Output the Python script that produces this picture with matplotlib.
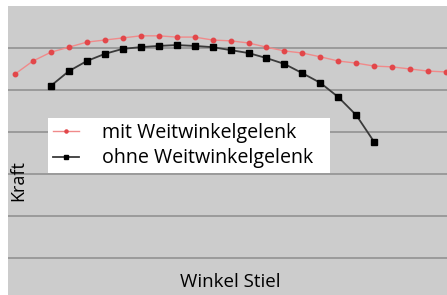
import matplotlib.pyplot as plt
import numpy as np

plt.rcParams['font.family'] = ['Open Sans', 'DejaVu Sans']

# angle steps (no tick labels in the original)
steps_mit = np.arange(0, 25)
steps_ohne = np.arange(2, 21)

kraft_mit = [5.38, 5.69, 5.90, 6.02, 6.14, 6.19, 6.24, 6.29, 6.29, 6.26, 6.26, 6.19,
             6.17, 6.12, 6.02, 5.93, 5.88, 5.79, 5.69, 5.64, 5.57, 5.55, 5.50, 5.45, 5.43]
kraft_ohne = [5.10, 5.45, 5.69, 5.86, 5.98, 6.02, 6.05, 6.07, 6.05, 6.02, 5.95, 5.88,
              5.76, 5.62, 5.40, 5.17, 4.83, 4.40, 3.76]

fig = plt.figure(figsize=(4.47, 2.95), dpi=100)
ax = fig.add_axes([8/447, 0, 1 - 8/447, 289/295])
ax.set_facecolor('#cccccc')

ax.plot(steps_mit, kraft_mit, color='#f08a8a', lw=1.0, marker='o', ms=3.2,
        mfc='#e2474a', mec='#e2474a', label='mit Weitwinkelgelenk', zorder=3)
ax.plot(steps_ohne, kraft_ohne, color='#3a3a3a', lw=1.3, marker='s', ms=4.5,
        mfc='black', mec='black', label='ohne Weitwinkelgelenk', zorder=3)

ax.set_xlim(-0.39, 24.05)
ax.set_ylim(0.119, 7)
ax.set_yticks(np.arange(1, 7))
ax.set_xticks([])
ax.tick_params(left=False, labelleft=False)
ax.grid(axis='y', color='#9a9a9a', lw=1.4)
ax.set_axisbelow(True)
for s in ax.spines.values():
    s.set_visible(False)

# legend box stretched to the width seen in the picture
leg = ax.legend(loc='upper left', bbox_to_anchor=(40/439, 1 - 112/289, 282/439, 0),
                mode='expand', fontsize=14.1,
                frameon=True, fancybox=False, framealpha=1, edgecolor='white',
                borderpad=0.25, labelspacing=0.28, handlelength=1.35, handletextpad=1.15,
                borderaxespad=0, markerscale=0.7)
leg.get_frame().set_linewidth(0)

fig.text(18/447, 1 - 181/295, 'Kraft', rotation=90, ha='center', va='center', fontsize=13)
fig.text(230/447, 1 - 282/295, 'Winkel Stiel', ha='center', va='center', fontsize=13.5)

fig.savefig('out.png', dpi=100, facecolor='white')
